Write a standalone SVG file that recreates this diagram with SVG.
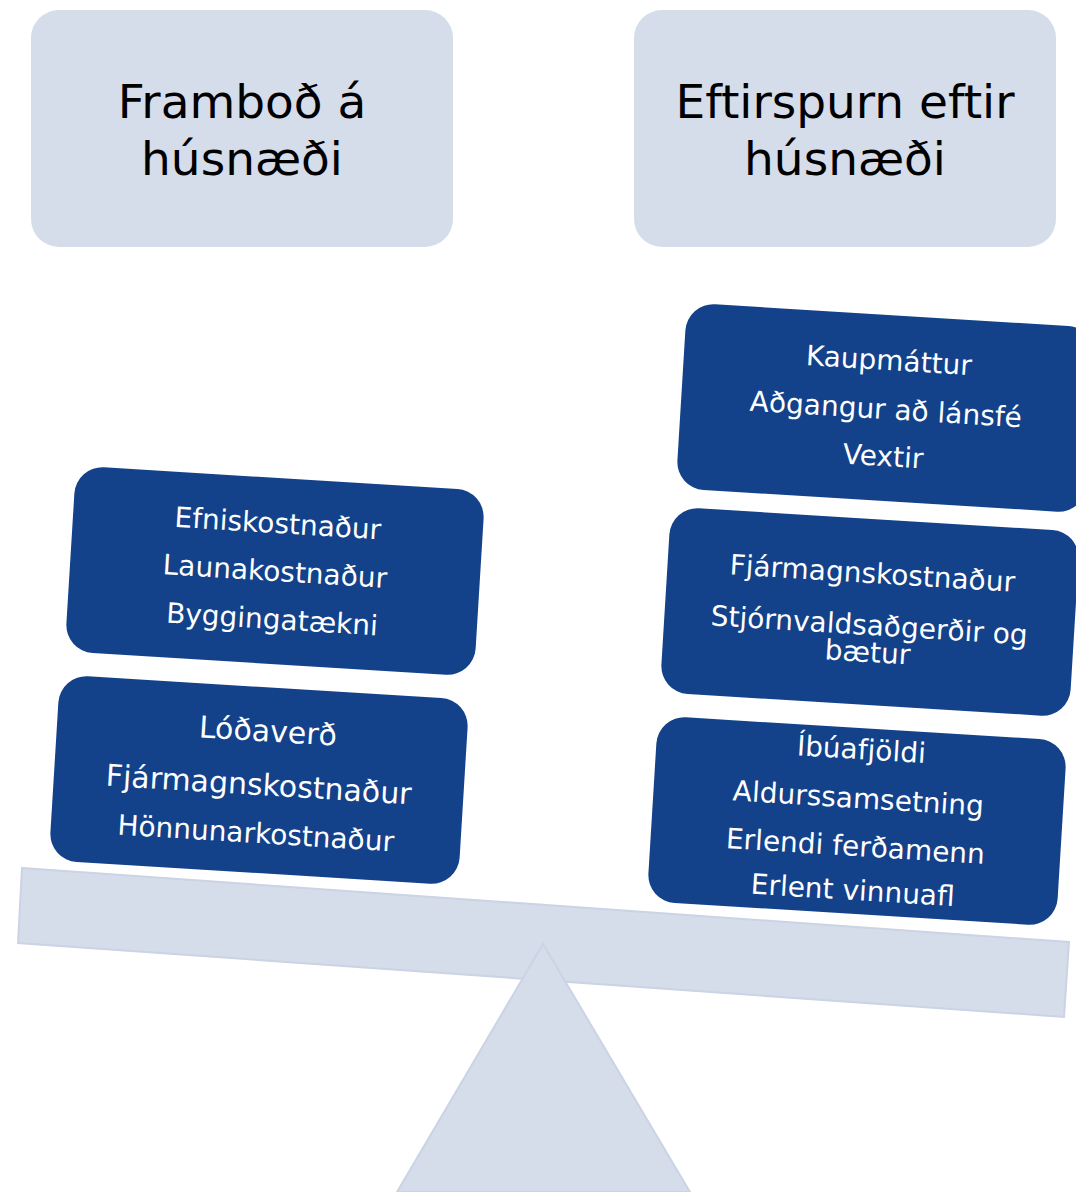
<svg xmlns="http://www.w3.org/2000/svg" width="1076" height="1192" viewBox="0 0 1076 1192">
<style>
.hdr{fill:#D5DCEA}
.ht{font-family:"DejaVu Sans",Verdana,sans-serif;font-size:47px;fill:#000;text-anchor:middle}
.bx{fill:#13428A}
.bt{font-family:"DejaVu Sans",Verdana,sans-serif;font-size:28px;fill:#fff;text-anchor:middle}
.lt{fill:#D5DCEA;stroke:#CBD3E4;stroke-width:2}
</style>
<rect width="1076" height="1192" fill="#fff"/>
<g id="header-supply">
<rect class="hdr" x="31" y="10" width="422" height="237" rx="28"/>
<text class="ht" x="242" y="118">Framboð á</text>
<text class="ht" x="242" y="175">húsnæði</text>
</g>
<g id="header-demand">
<rect class="hdr" x="634" y="10" width="422" height="237" rx="28"/>
<text class="ht" x="845" y="118">Eftirspurn eftir</text>
<text class="ht" x="845" y="175">húsnæði</text>
</g>
<g id="beam">
<polygon class="lt" points="22,868 1069,942 1064,1017 18,943"/>
</g>
<g id="fulcrum">
<polygon class="lt" points="543,944 690,1192 397,1192"/>
</g>
<g id="supply-1" transform="translate(275,571) rotate(3.5)">
<rect class="bx" x="-205" y="-93" width="410" height="186" rx="28"/>
<text class="bt" x="0" y="-38">Efniskostnaður</text>
<text class="bt" x="0" y="10">Launakostnaður</text>
<text class="bt" x="0" y="58">Byggingatækni</text>
</g>
<g id="supply-2" transform="translate(259,780) rotate(3.5)">
<rect class="bx" x="-205" y="-93" width="410" height="186" rx="28"/>
<text class="bt" x="6" y="-39" style="font-size:30px">Lóðaverð</text>
<text class="bt" x="0" y="15" style="font-size:30px">Fjármagnskostnaður</text>
<text class="bt" x="0" y="63" style="font-size:28px">Hönnunarkostnaður</text>
</g>
<g id="demand-1" transform="translate(886,408) rotate(3.5)">
<rect class="bx" x="-205" y="-93" width="410" height="186" rx="28"/>
<text class="bt" x="0" y="-38">Kaupmáttur</text>
<text class="bt" x="0" y="11">Aðgangur að lánsfé</text>
<text class="bt" x="0" y="58">Vextir</text>
</g>
<g id="demand-2" transform="translate(870,612) rotate(3.5)">
<rect class="bx" x="-205" y="-93" width="410" height="186" rx="28"/>
<text class="bt" x="0" y="-29">Fjármagnskostnaður</text>
<text class="bt" x="0" y="23">Stjórnvaldsaðgerðir og</text>
<text class="bt" x="0" y="50">bætur</text>
</g>
<g id="demand-3" transform="translate(857,821) rotate(3.5)">
<rect class="bx" x="-205" y="-93" width="410" height="186" rx="28"/>
<text class="bt" x="0" y="-62">Íbúafjöldi</text>
<text class="bt" x="0" y="-13">Aldurssamsetning</text>
<text class="bt" x="0" y="35">Erlendi ferðamenn</text>
<text class="bt" x="0" y="79">Erlent vinnuafl</text>
</g>
</svg>
